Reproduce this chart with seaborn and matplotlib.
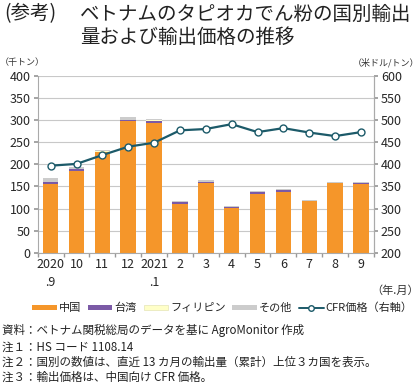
import numpy as np
import pandas as pd
import matplotlib
matplotlib.use("Agg")
import matplotlib.pyplot as plt
from matplotlib.patches import Patch
from matplotlib.lines import Line2D
import seaborn as sns

sns.set_theme(style="white")
plt.rcParams['font.family'] = ['Noto Sans CJK JP', 'DejaVu Sans']

months = ["2020\n.9", "10", "11", "12", "2021\n.1", "2", "3", "4", "5", "6", "7", "8", "9"]
china = [155, 185, 227, 298, 294, 111, 157, 101, 133, 137, 116, 157, 156]
taiwan = [5, 4, 2, 3, 5, 3, 3, 2, 4, 4, 1.5, 1, 1.5]
philippines = [1, 1, 1, 0.5, 0.5, 0.5, 0.5, 0.5, 0.5, 0.5, 0.5, 0.5, 0.5]
others = [7, 4, 3, 5, 4, 2, 3, 3, 3, 2, 1.5, 1, 1.5]
cfr = [397, 401, 421, 440, 449, 477, 480, 491, 473, 482, 472, 464, 473]

c_china = "#F5962A"
c_taiwan = "#7B5AA6"
c_phil = "#FFFFC8"
c_other = "#CCCCCC"
c_line = "#1C5A69"

df = pd.DataFrame({"month": months, "china": china, "taiwan": taiwan,
                   "phil": philippines, "other": others})

fig = plt.figure(figsize=(4.2, 3.85), dpi=100)
ax = fig.add_axes([0.0898, 0.3436, 0.8005, 0.459])

# China layer through seaborn (sets up categorical axis)
sns.barplot(data=df, x="month", y="china", color=c_china, width=0.6,
            saturation=1, ax=ax, linewidth=0, order=months)
xpos = np.arange(len(months))
bottom = np.array(china, dtype=float)
for col, colr in [("taiwan", c_taiwan), ("phil", c_phil), ("other", c_other)]:
    vals = df[col].to_numpy(dtype=float)
    ax.bar(xpos, vals, bottom=bottom, width=0.6, color=colr, linewidth=0)
    bottom = bottom + vals

ax.set_ylim(0, 400)
ax.set_xlim(-0.5, 12.5)
ax.set_yticks(range(0, 401, 50))
ax.set_xlabel("")
ax.set_ylabel("")
ax.yaxis.grid(True, color="#C8C8C8", linewidth=0.8)
ax.set_axisbelow(True)
ax.tick_params(axis="y", labelsize=9, length=3, color="#999999", pad=2, left=True)
ax.set_xticks(range(13))
ax.set_xticklabels(months, fontsize=9, linespacing=1.5, va="top")
ax.tick_params(axis="x", length=0, pad=4)
ax.set_xticks(np.arange(-0.5, 13, 1), minor=True)
ax.tick_params(axis="x", which="minor", length=3, color="#999999", bottom=True)
ax.spines["top"].set_visible(False)
for s in ["left", "bottom", "right"]:
    ax.spines[s].set_color("#AAAAAA")
    ax.spines[s].set_linewidth(0.8)

ax2 = ax.twinx()
ldf = pd.DataFrame({"x": xpos, "cfr": cfr})
sns.lineplot(data=ldf, x="x", y="cfr", ax=ax2, color=c_line, linewidth=1.6,
             marker="o", markersize=5, markerfacecolor="white",
             markeredgecolor=c_line, markeredgewidth=1.0)
ax2.set_ylim(200, 600)
ax2.set_yticks(range(200, 601, 50))
ax2.set_ylabel("")
ax2.set_xlabel("")
ax2.tick_params(axis="y", labelsize=9, length=3, color="#999999", pad=2, right=True)
for s in ["top", "left", "bottom"]:
    ax2.spines[s].set_visible(False)
ax2.spines["right"].set_color("#AAAAAA")
ax2.spines["right"].set_linewidth(0.8)
ax.set_xlim(-0.5, 12.5)

tc = "#222222"
fig.text(4/420, 1-14/385, "(参考)", fontsize=14, va="center", ha="left", color=tc)
fig.text(80/420, 1-14/385, "ベトナムのタピオカでん粉の国別輸出", fontsize=14, va="center", ha="left", color=tc)
fig.text(80/420, 1-37/385, "量および輸出価格の推移", fontsize=14, va="center", ha="left", color=tc)
fig.text(0/420, 1-63/385, "（千トン）", fontsize=6.5, va="center", ha="left", color="#333333")
fig.text(419/420, 1-63/385, "（米ドル/トン）", fontsize=6.5, va="center", ha="right", color="#333333")
fig.text(419/420, 1-291/385, "（年.月）", fontsize=8, va="center", ha="right", color="#333333")

handles = [Patch(facecolor=c_china, edgecolor="none"),
           Patch(facecolor=c_taiwan, edgecolor="none"),
           Patch(facecolor=c_phil, edgecolor="#DDDDAA", linewidth=0.4),
           Patch(facecolor=c_other, edgecolor="none"),
           Line2D([0], [0], color=c_line, marker="o", markerfacecolor="white",
                  markeredgecolor=c_line, markersize=4, linewidth=1.4)]
labels = ["中国", "台湾", "フィリピン", "その他", "CFR価格（右軸）"]
fig.legend(handles, labels, loc="center", bbox_to_anchor=(0.53, 1-308/385), ncol=5,
           frameon=False, fontsize=8, handlelength=2.2, handleheight=0.35,
           handletextpad=0.2, columnspacing=0.6)

notes = ["資料：ベトナム関税総局のデータを基に AgroMonitor 作成",
         "注１：HS コード 1108.14",
         "注２：国別の数値は、直近 13 カ月の輸出量（累計）上位３カ国を表示。",
         "注３：輸出価格は、中国向け CFR 価格。"]
ys = [330, 347, 362, 377]
for t, y in zip(notes, ys):
    fig.text(2/420, 1-y/385, t, fontsize=8.3, va="center", ha="left", color=tc)

fig.savefig("out.png", dpi=100)
